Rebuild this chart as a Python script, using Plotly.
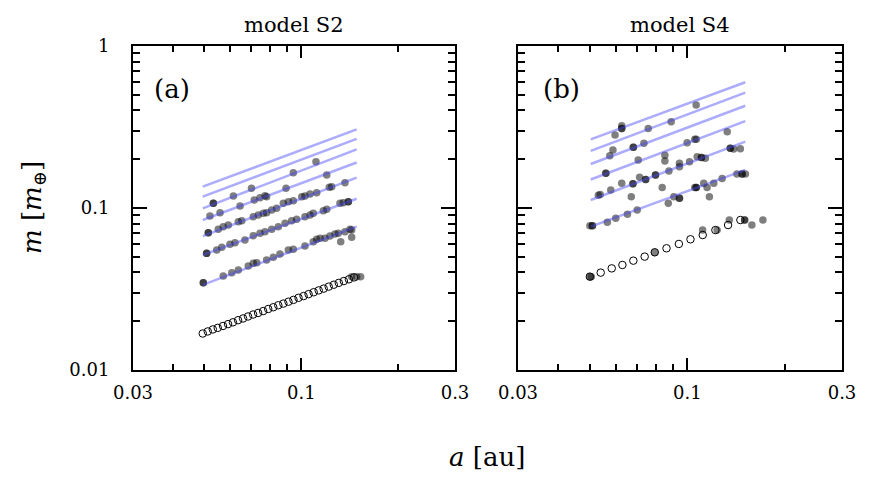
import numpy as np
import plotly.graph_objects as go

# model S2 (left panel)
iso_a_s2 = [0.0494, 0.0512, 0.0531, 0.0550, 0.0571, 0.0592, 0.0613, 0.0636, 0.0659, 0.0683,
            0.0708, 0.0734, 0.0761, 0.0789, 0.0818, 0.0848, 0.0879, 0.0912, 0.0945, 0.0980,
            0.1016, 0.1053, 0.1092, 0.1132, 0.1173, 0.1216, 0.1261, 0.1307, 0.1355, 0.1405, 0.1457]
iso_m_s2 = [0.0168, 0.0173, 0.0178, 0.0182, 0.0187, 0.0192, 0.0197, 0.0203, 0.0208, 0.0214,
            0.0220, 0.0225, 0.0231, 0.0238, 0.0244, 0.0251, 0.0257, 0.0264, 0.0271, 0.0279,
            0.0286, 0.0294, 0.0302, 0.0310, 0.0318, 0.0327, 0.0336, 0.0345, 0.0354, 0.0363, 0.0373]

emb_a_s2 = [0.0533, 0.0533, 0.0615, 0.0700, 0.0944, 0.1110, 0.1199, 0.1366, 0.0896, 0.1221, 0.1242,
            0.0520, 0.0559, 0.0645, 0.0714, 0.0744, 0.0771, 0.0780,
            0.0514, 0.0514, 0.0552, 0.0572, 0.0593, 0.0637, 0.0653, 0.0709, 0.0735, 0.0762, 0.0780,
            0.0809, 0.0838, 0.0879, 0.0911, 0.0944, 0.1003, 0.1026, 0.1064, 0.1116,
            0.0508, 0.0508, 0.0546, 0.0566, 0.0600, 0.0622, 0.0668, 0.0709, 0.0744, 0.0771, 0.0809,
            0.0848, 0.0890, 0.0933, 0.0967, 0.1026, 0.1064, 0.1089, 0.1170, 0.1199, 0.1318, 0.1349,
            0.1399, 0.1399,
            0.0496, 0.0496, 0.0572, 0.0608, 0.0637, 0.0684, 0.0709, 0.0727, 0.0780, 0.0818, 0.0858,
            0.0911, 0.0944, 0.1026, 0.1089, 0.1116, 0.1143, 0.1184, 0.1227, 0.1272, 0.1302, 0.1366,
            0.1416, 0.1433, 0.1325, 0.1433,
            0.1433, 0.1485, 0.1528]
emb_m_s2 = [0.1069, 0.1069, 0.1186, 0.1323, 0.1651, 0.1931, 0.1599, 0.1433, 0.1323, 0.1341, 0.1353,
            0.0892, 0.0935, 0.1029, 0.1121, 0.1158, 0.1191, 0.1174,
            0.0704, 0.0704, 0.0739, 0.0766, 0.0785, 0.0823, 0.0835, 0.0884, 0.0905, 0.0927, 0.0935,
            0.0972, 0.0996, 0.1069, 0.1094, 0.1109, 0.1174, 0.1186, 0.1220, 0.1243,
            0.0525, 0.0525, 0.0550, 0.0572, 0.0597, 0.0611, 0.0635, 0.0675, 0.0698, 0.0714, 0.0739,
            0.0766, 0.0804, 0.0835, 0.0852, 0.0884, 0.0905, 0.0927, 0.0962, 0.0982, 0.1069, 0.1078,
            0.1094, 0.1094,
            0.0346, 0.0346, 0.0380, 0.0399, 0.0414, 0.0439, 0.0456, 0.0460, 0.0478, 0.0496, 0.0520,
            0.0550, 0.0556, 0.0583, 0.0619, 0.0641, 0.0650, 0.0650, 0.0672, 0.0691, 0.0698, 0.0714,
            0.0739, 0.0731, 0.0619, 0.0659,
            0.0377, 0.0377, 0.0377]

line_a_s2 = [0.0494, 0.1485]
line_m0_s2 = [0.1355, 0.1175, 0.0995, 0.0843, 0.0671, 0.0513, 0.0335]
line_m1_s2 = [0.306, 0.267, 0.230, 0.191, 0.154, 0.114, 0.0767]

# model S4 (right panel)
iso_a_s4 = [0.0500, 0.0540, 0.0584, 0.0630, 0.0681, 0.0738, 0.0793, 0.0862, 0.0941, 0.1022,
            0.1115, 0.1220, 0.1335, 0.1457]
iso_m_s4 = [0.0377, 0.0399, 0.0424, 0.0445, 0.0473, 0.0501, 0.0533, 0.0564, 0.0600, 0.0641,
            0.0681, 0.0731, 0.0785, 0.0843]

emb_a_s4 = [0.1064, 0.0627, 0.0627, 0.0627, 0.0598, 0.0757, 0.0891, 0.0589, 0.0576, 0.0681,
            0.0681, 0.0734, 0.0998, 0.1054, 0.1065, 0.1327, 0.1356, 0.1356, 0.1389, 0.1457,
            0.0852, 0.0852, 0.0705, 0.0560, 0.0560, 0.1072, 0.1105, 0.1105, 0.1136, 0.0945,
            0.0945, 0.1015, 0.0877, 0.0797, 0.0797, 0.0743, 0.0743, 0.0712, 0.0679, 0.0679,
            0.0627, 0.0580, 0.0836, 0.1054, 0.1065, 0.1065, 0.1123, 0.1206, 0.1280, 0.1422,
            0.1475, 0.1475, 0.1510, 0.0531, 0.0538, 0.0671, 0.0873, 0.0908, 0.0945, 0.0945,
            0.1150, 0.1169, 0.0500, 0.0509, 0.0509, 0.0566, 0.0601, 0.0653, 0.0700, 0.0500,
            0.0505, 0.0793, 0.1114, 0.1235, 0.1347, 0.1502, 0.1502, 0.1581, 0.1710]
emb_m_s4 = [0.432, 0.322, 0.310, 0.310, 0.282, 0.310, 0.341, 0.228, 0.210, 0.237,
            0.237, 0.251, 0.253, 0.266, 0.266, 0.296, 0.234, 0.234, 0.231, 0.232,
            0.212, 0.195, 0.198, 0.164, 0.164, 0.2075, 0.205, 0.205, 0.203, 0.189,
            0.180, 0.193, 0.169, 0.160, 0.160, 0.150, 0.150, 0.155, 0.141, 0.141,
            0.142, 0.129, 0.134, 0.134, 0.134, 0.134, 0.142, 0.142, 0.152, 0.162,
            0.162, 0.162, 0.162, 0.120, 0.121, 0.1175, 0.107, 0.1175, 0.115, 0.115,
            0.134, 0.1175, 0.0778, 0.0778, 0.0778, 0.0816, 0.0863, 0.0914, 0.0972, 0.0377,
            0.0377, 0.0532, 0.0731, 0.0731, 0.0843, 0.0843, 0.0843, 0.0785, 0.0843]

line_a_s4 = [0.0503, 0.1509]
line_m0_s4 = [0.265, 0.225, 0.187, 0.150, 0.112, 0.0767]
line_m1_s4 = [0.597, 0.515, 0.428, 0.344, 0.257, 0.172]

x_ticks = [0.03, 0.1, 0.3]
x_ticktext = ["0.03", "0.1", "0.3"]
x_minor = [0.04, 0.05, 0.06, 0.07, 0.08, 0.09, 0.2]
y_ticks = [0.01, 0.1, 1]
y_ticktext = ["0.01", "0.1", "1"]
y_minor = [0.02, 0.03, 0.04, 0.05, 0.06, 0.07, 0.08, 0.09,
           0.2, 0.3, 0.4, 0.5, 0.6, 0.7, 0.8, 0.9]

FONT = "DejaVu Serif"
LINE_COLOR = "rgba(70,70,250,0.45)"

fig = go.Figure()

panels = [
    ("x", "y", iso_a_s2, iso_m_s2, emb_a_s2, emb_m_s2, line_a_s2, line_m0_s2, line_m1_s2),
    ("x2", "y2", iso_a_s4, iso_m_s4, emb_a_s4, emb_m_s4, line_a_s4, line_m0_s4, line_m1_s4),
]

for xa, ya, ia, im, ea, em, la, lm0, lm1 in panels:
    fig.add_trace(go.Scatter(
        x=ia, y=im, mode="markers", xaxis=xa, yaxis=ya,
        marker=dict(symbol="circle-open", size=7.5, color="black", line=dict(width=1)),
        showlegend=False))
    fig.add_trace(go.Scatter(
        x=ea, y=em, mode="markers", xaxis=xa, yaxis=ya,
        marker=dict(symbol="circle", size=7.5, color="rgba(0,0,0,0.5)", line=dict(width=0)),
        showlegend=False))
    for m0, m1 in zip(lm0, lm1):
        fig.add_trace(go.Scatter(
            x=la, y=[m0, m1], mode="lines", xaxis=xa, yaxis=ya,
            line=dict(color=LINE_COLOR, width=2.5),
            showlegend=False))

W, H = 872, 487
OFF = 8  # page body margin of the browser


def px(x):
    return (x - OFF) / W


def py(y):
    return (H - (y - OFF)) / H


xdom1 = [px(133), px(455)]
xdom2 = [px(518), px(842)]
ydom = [py(370), py(46)]


def xaxis_cfg(domain, anchor):
    return dict(
        type="log", domain=domain, anchor=anchor, automargin=False,
        range=[np.log10(0.03), np.log10(0.3)],
        tickmode="array", tickvals=x_ticks, ticktext=x_ticktext,
        ticks="inside", ticklen=12, tickwidth=1.5, tickcolor="black",
        minor=dict(tickmode="array", tickvals=x_minor, ticks="inside",
                   ticklen=6, tickwidth=1.5, tickcolor="black", showgrid=False),
        showline=True, linewidth=2, linecolor="black", mirror="allticks",
        showgrid=False, zeroline=False, ticklabelstandoff=5,
        tickfont=dict(family=FONT, size=18, color="black"),
    )


def yaxis_cfg(anchor, labels):
    return dict(
        type="log", domain=ydom, anchor=anchor, automargin=False,
        range=[-2, 0],
        tickmode="array", tickvals=y_ticks, ticktext=y_ticktext,
        ticks="inside", ticklen=14, tickwidth=1.5, tickcolor="black",
        minor=dict(tickmode="array", tickvals=y_minor, ticks="inside",
                   ticklen=7, tickwidth=1.5, tickcolor="black", showgrid=False),
        showline=True, linewidth=2, linecolor="black", mirror="allticks",
        showgrid=False, zeroline=False, showticklabels=labels, ticklabelstandoff=18,
        tickfont=dict(family=FONT, size=18, color="black"),
    )


def label(text, x, y, size, angle=0):
    return dict(text=text, x=px(x), y=py(y), xref="paper", yref="paper",
                xanchor="center", yanchor="middle", textangle=angle,
                showarrow=False, font=dict(family=FONT, size=size, color="black"))


fig.update_layout(
    width=W, height=H, autosize=False,
    margin=dict(l=0, r=0, t=0, b=0, pad=0, autoexpand=False),
    paper_bgcolor="white", plot_bgcolor="white",
    xaxis=xaxis_cfg(xdom1, "y"),
    yaxis=yaxis_cfg("x", True),
    xaxis2=xaxis_cfg(xdom2, "y2"),
    yaxis2=yaxis_cfg("x2", False),
    annotations=[
        label("model S2", 294, 25, 21),
        label("model S4", 680, 25, 21),
        label("(a)", 172, 89, 26),
        label("(b)", 561, 89, 26),
        label("<i>a</i> [au]", 487, 457, 26),
        label("<i>m</i> [<i>m</i><sub>⊕</sub>]", 33, 208, 26, -90),
    ],
)

fig.write_html("out.html")
